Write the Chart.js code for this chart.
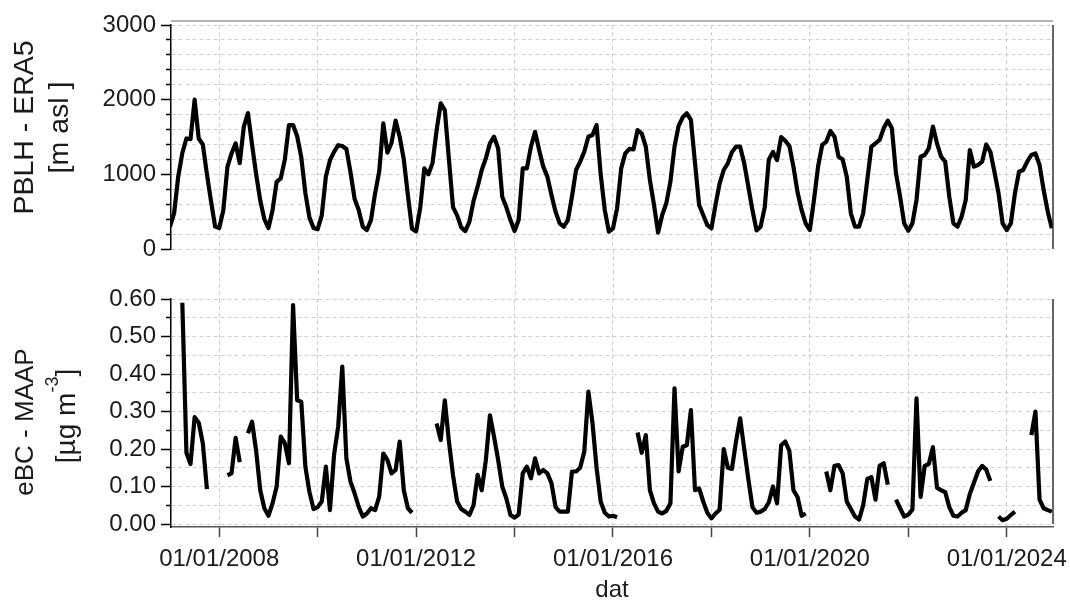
<!DOCTYPE html>
<html>
<head>
<meta charset="utf-8">
<title>PBLH and eBC monthly series</title>
<script src="https://cdn.jsdelivr.net/npm/chart.js@4.4.1/dist/chart.umd.min.js"></script>
<style>
  html, body { margin: 0; padding: 0; background: #fff; }
  #wrap { position: relative; width: 1070px; height: 602px; overflow: hidden; }
  #wrap canvas { position: absolute; left: 0; top: 0; }
</style>
</head>
<body>
<div id="wrap">
  <canvas id="ebcCanvas" width="1070" height="602"></canvas>
  <canvas id="pblhCanvas" width="1070" height="290"></canvas>
</div>
<script>
// Monthly means, first value = January 2007
const FIRST_YEAR = 2007;

// Planetary boundary layer height from ERA5 [m asl]
const pblhEra5 = [
  300, 480, 970, 1285, 1480, 1470, 2000, 1480, 1400, 1000, 640, 300,     // 2007
  280, 520, 1100, 1280, 1415, 1150, 1640, 1820, 1400, 1000, 650, 400,    // 2008
  280, 520, 900, 946, 1200, 1660, 1660, 1510, 1230, 750, 420, 280,       // 2009
  265, 450, 970, 1190, 1300, 1390, 1380, 1340, 1030, 674, 522, 299,      // 2010
  254, 388, 746, 1035, 1683, 1290, 1420, 1720, 1500, 1200, 720, 270,     // 2011
  235, 550, 1080, 1000, 1150, 1590, 1950, 1860, 1200, 560, 450, 290,     // 2012
  240, 366, 643, 835, 1058, 1214, 1415, 1504, 1348, 700, 558, 388,       // 2013
  240, 388, 1080, 1080, 1370, 1570, 1326, 1103, 969, 723, 500, 343,      // 2014
  299, 388, 700, 1058, 1170, 1303, 1504, 1527, 1660, 1000, 522, 232,     // 2015
  277, 545, 1080, 1281, 1340, 1335, 1593, 1549, 1370, 924, 590, 220,     // 2016
  455, 612, 902, 1370, 1650, 1763, 1817, 1728, 1150, 590, 455, 320,      // 2017
  277, 590, 880, 1058, 1147, 1300, 1370, 1370, 1147, 834, 522, 250,      // 2018
  300, 560, 1200, 1300, 1190, 1500, 1450, 1380, 1100, 760, 520, 340,     // 2019
  254, 656, 1103, 1393, 1437, 1580, 1504, 1236, 1200, 969, 478, 299,     // 2020
  299, 478, 924, 1370, 1415, 1460, 1616, 1718, 1616, 1013, 700, 343,     // 2021
  245, 343, 656, 1236, 1259, 1348, 1640, 1415, 1236, 1170, 700, 343,     // 2022
  299, 433, 656, 1326, 1103, 1125, 1170, 1400, 1303, 1035, 746, 343,     // 2023
  254, 343, 746, 1035, 1058, 1170, 1259, 1280, 1125, 790, 500, 277       // 2024
];

// Equivalent black carbon from the MAAP [ug m-3]; null = no data
const ebcMaap = [
  null, null, null, 0.59, 0.19, 0.16, 0.285, 0.27, 0.215, 0.093, null, null,          // 2007
  null, null, 0.13, 0.135, 0.23, 0.165, null, 0.242, 0.273, 0.195, 0.09, 0.042,       // 2008
  0.022, 0.055, 0.1, 0.233, 0.215, 0.162, 0.584, 0.33, 0.326, 0.153, 0.085, 0.04,     // 2009
  0.045, 0.06, 0.153, 0.037, 0.185, 0.26, 0.42, 0.175, 0.113, 0.082, 0.046, 0.02,     // 2010
  0.028, 0.042, 0.037, 0.073, 0.188, 0.171, 0.135, 0.144, 0.22, 0.09, 0.042, 0.03,    // 2011
  null, null, null, null, null, 0.268, 0.224, 0.33, 0.22, 0.13, 0.06, 0.04,           // 2012
  0.033, 0.024, 0.05, 0.131, 0.09, 0.17, 0.29, 0.233, 0.171, 0.1, 0.068, 0.024,       // 2013
  0.017, 0.025, 0.135, 0.153, 0.122, 0.175, 0.135, 0.144, 0.135, 0.109, 0.045, 0.033, // 2014
  0.033, 0.033, 0.14, 0.14, 0.15, 0.193, 0.353, 0.27, 0.15, 0.06, 0.03, 0.02,         // 2015
  0.022, 0.018, null, null, null, null, 0.244, 0.19, 0.237, 0.09, 0.055, 0.033,       // 2016
  0.028, 0.035, 0.055, 0.362, 0.14, 0.206, 0.21, 0.304, 0.09, 0.095, 0.06, 0.03,      // 2017
  0.015, 0.028, 0.038, 0.2, 0.15, 0.147, 0.22, 0.282, 0.2, 0.12, 0.045, 0.03,         // 2018
  0.033, 0.04, 0.058, 0.1, 0.055, 0.21, 0.22, 0.195, 0.09, 0.072, 0.022, 0.028,       // 2019
  null, null, null, null, 0.14, 0.09, 0.155, 0.157, 0.135, 0.06, 0.04, 0.02,          // 2020
  0.012, 0.05, 0.12, 0.125, 0.065, 0.155, 0.162, 0.105, null, 0.065, 0.042, 0.02,     // 2021
  0.025, 0.038, 0.335, 0.072, 0.155, 0.16, 0.205, 0.097, 0.09, 0.085, 0.045, 0.022,   // 2022
  0.02, 0.03, 0.037, 0.08, 0.11, 0.14, 0.155, 0.145, 0.115, null, 0.02, 0.01,         // 2023
  0.014, 0.024, 0.033, null, null, null, 0.237, 0.3, 0.065, 0.042, 0.037, 0.033       // 2024
];

// Axis ticks and labels
const yearTicks = [2008, 2010, 2012, 2014, 2016, 2018, 2020, 2022, 2024];
const labelledYears = [2008, 2012, 2016, 2020, 2024];
const pblhTicks = [0, 200, 400, 600, 800, 1000, 1200, 1400, 1600, 1800, 2000, 2200, 2400, 2600, 2800, 3000];
const pblhLabels = [0, 1000, 2000, 3000];
const ebcTicks = [0, 0.05, 0.1, 0.15, 0.2, 0.25, 0.3, 0.35, 0.4, 0.45, 0.5, 0.55, 0.6];
const ebcLabels = [0, 0.1, 0.2, 0.3, 0.4, 0.5, 0.6];

const FONT = "'Liberation Sans', Arial, Helvetica, sans-serif";
const TEXT = '#1a1a1a';
const GRID = '#cfcfcf';
const GRID_DASH = [4, 3];
const TICK_SIZE = 24;
const X_MIN = 2007.02;
const X_MAX = 2024.94;

const toPoints = arr => arr.map((v, i) => ({ x: FIRST_YEAR + i / 12, y: v }));
const near = (list, v) => list.some(t => Math.abs(t - v) < 1e-6);

// Rotated y-axis titles, with optional superscript parts
const axisTitles = {
  id: 'axisTitles',
  afterDraw(chart, args, opts) {
    const { ctx, chartArea } = chart;
    const mid = (chartArea.top + chartArea.bottom) / 2;
    ctx.save();
    ctx.fillStyle = TEXT;
    ctx.textBaseline = 'alphabetic';
    ctx.textAlign = 'left';
    opts.lines.forEach(line => {
      let total = 0;
      line.parts.forEach(p => {
        ctx.font = p.size + 'px ' + FONT;
        p.w = ctx.measureText(p.text).width;
        total += p.w;
      });
      ctx.save();
      ctx.translate(line.baseline, mid + line.shift);
      ctx.rotate(-Math.PI / 2);
      let x = -total / 2;
      line.parts.forEach(p => {
        ctx.font = p.size + 'px ' + FONT;
        ctx.fillText(p.text, x, -(p.rise || 0));
        x += p.w;
      });
      ctx.restore();
    });
    ctx.restore();
  }
};

// Frame lines: right edge of each panel and the thin line above the top panel
const frame = {
  id: 'frame',
  afterDatasetsDraw(chart, args, opts) {
    const { ctx, chartArea: a, scales } = chart;
    ctx.save();
    if (opts.topGap !== undefined) {
      ctx.strokeStyle = '#9a9a9a';
      ctx.lineWidth = 1.5;
      ctx.beginPath();
      ctx.moveTo(a.left, a.top - opts.topGap);
      ctx.lineTo(a.right, a.top - opts.topGap);
      ctx.stroke();
    }
    ctx.strokeStyle = '#333';
    ctx.lineWidth = 1.5;
    ctx.beginPath();
    ctx.moveTo(a.right, a.top);
    ctx.lineTo(a.right, scales.y.getPixelForValue(0));
    ctx.stroke();
    ctx.restore();
  }
};

// Vertical year grid continued through the space between the two panels
const gapGrid = {
  id: 'gapGrid',
  beforeDatasetsDraw(chart, args, opts) {
    if (opts.fromY === undefined) return;
    const { ctx, chartArea: a, scales } = chart;
    ctx.save();
    ctx.strokeStyle = GRID;
    ctx.lineWidth = 1;
    ctx.setLineDash(GRID_DASH);
    yearTicks.forEach(v => {
      const x = Math.round(scales.x.getPixelForValue(v)) + 0.5;
      ctx.beginPath();
      ctx.moveTo(x, opts.fromY);
      ctx.lineTo(x, a.top);
      ctx.stroke();
    });
    ctx.restore();
  }
};

const lineStyle = {
  borderColor: '#000',
  borderWidth: 4.2,
  pointRadius: 0,
  tension: 0,
  borderJoinStyle: 'round',
  spanGaps: false
};

const xScale = (showLabels) => ({
  type: 'linear',
  bounds: 'data',
  min: X_MIN,
  max: X_MAX,
  afterBuildTicks: s => { s.ticks = yearTicks.map(v => ({ value: v })); },
  afterFit: s => {
    s.height = showLabels ? 75 : 0;
    // labels may overhang the plot edge; keep the plot width fixed
    s.paddingLeft = 0;
    s.paddingRight = 0;
  },
  ticks: {
    display: showLabels,
    autoSkip: false,
    maxRotation: 0,
    padding: 8,
    color: TEXT,
    font: { family: FONT, size: TICK_SIZE },
    callback: v => labelledYears.includes(v) ? '01/01/' + v : ''
  },
  grid: {
    color: GRID,
    lineWidth: 1,
    drawTicks: showLabels,
    tickLength: 10,
    tickColor: '#444',
    tickWidth: 1.5,
    tickBorderDash: []
  },
  border: { display: showLabels, color: '#555', width: 1.5, dash: GRID_DASH },
  title: {
    display: showLabels,
    text: 'dat',
    color: TEXT,
    font: { family: FONT, size: TICK_SIZE, lineHeight: 1 },
    padding: 0
  }
});

const yScale = (min, max, ticks, labels, fmt) => ({
  type: 'linear',
  bounds: 'data',
  min: min,
  max: max,
  afterBuildTicks: s => { s.ticks = ticks.map(v => ({ value: v })); },
  afterFit: s => { s.width = 171; },
  ticks: {
    autoSkip: false,
    padding: 5,
    color: TEXT,
    font: { family: FONT, size: TICK_SIZE },
    callback: v => near(labels, v) ? fmt(v) : ''
  },
  grid: {
    color: GRID,
    lineWidth: 1,
    tickLength: 10,
    tickColor: '#000',
    tickWidth: 1.5,
    tickBorderDash: c => near(labels, c.tick.value) ? [] : [0, 5, 5, 40]
  },
  border: { display: true, color: '#000', width: 1.5, dash: GRID_DASH }
});

const pblhChart = new Chart(document.getElementById('pblhCanvas'), {
  type: 'line',
  data: { datasets: [Object.assign({ label: 'PBLH - ERA5', data: toPoints(pblhEra5) }, lineStyle)] },
  options: {
    responsive: false,
    animation: false,
    devicePixelRatio: 1,
    parsing: false,
    layout: { padding: { top: 25, right: 17, bottom: 41, left: 0 } },
    plugins: {
      legend: { display: false },
      tooltip: { enabled: false },
      frame: { topGap: 4 },
      axisTitles: {
        lines: [
          { baseline: 33, shift: -9.5, parts: [{ text: 'PBLH - ERA5', size: 28.5 }] },
          { baseline: 68, shift: -9.5, parts: [{ text: '[m asl ]', size: 28.5 }] }
        ]
      }
    },
    scales: {
      x: xScale(false),
      y: yScale(0, 3000, pblhTicks, pblhLabels, v => String(v))
    }
  },
  plugins: [axisTitles, frame]
});

new Chart(document.getElementById('ebcCanvas'), {
  type: 'line',
  data: { datasets: [Object.assign({ label: 'eBC - MAAP', data: toPoints(ebcMaap) }, lineStyle)] },
  options: {
    responsive: false,
    animation: false,
    devicePixelRatio: 1,
    parsing: false,
    layout: { padding: { top: 299, right: 17, bottom: 0, left: 0 } },
    plugins: {
      legend: { display: false },
      tooltip: { enabled: false },
      frame: {},
      gapGrid: { fromY: pblhChart.chartArea.bottom },
      axisTitles: {
        lines: [
          { baseline: 33, shift: 9, parts: [{ text: 'eBC - MAAP', size: 26 }] },
          { baseline: 74.5, shift: 3, parts: [
            { text: '[µg m', size: 28 },
            { text: '-3', size: 18, rise: 17 },
            { text: ']', size: 28 }
          ] }
        ]
      }
    },
    scales: {
      x: xScale(true),
      y: yScale(-0.008, 0.6, ebcTicks, ebcLabels, v => v.toFixed(2))
    }
  },
  plugins: [axisTitles, frame, gapGrid]
});
</script>
</body>
</html>
